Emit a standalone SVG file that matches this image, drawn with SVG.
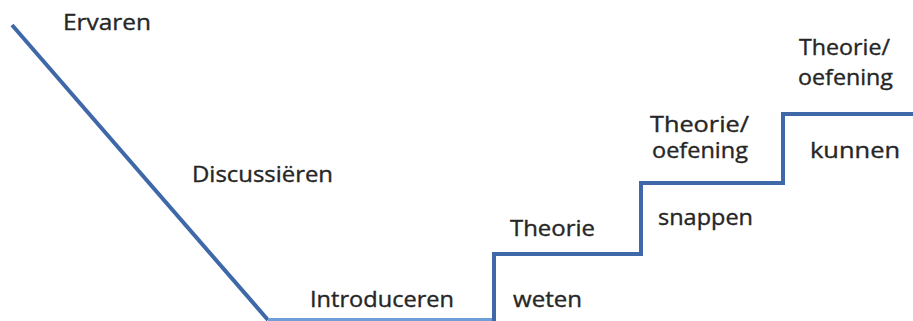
<svg xmlns="http://www.w3.org/2000/svg" width="913" height="321" viewBox="0 0 913 321">
<style>
.t{font-family:"Open Sans","Noto Sans",sans-serif;font-size:21px;fill:#262626;stroke:#262626;stroke-width:0.35}
.ln{fill:none;stroke:#3f68a8;stroke-width:4;stroke-linejoin:miter}
</style>
<rect width="913" height="321" fill="#ffffff"/>
<g id="connectors">
<path class="ln" d="M12,25 L268,320"/>
<path d="M268,320 L494,320" fill="none" stroke="#6f9fd8" stroke-width="4"/>
<path class="ln" d="M494,321 L494,254 L641,254 L641,183 L783,183 L783,114 L913,114"/>
</g>
<g id="n-ervaren"><text class="t" x="63" y="30" textLength="88" lengthAdjust="spacingAndGlyphs">Ervaren</text></g>
<g id="n-discussieren"><text class="t" x="192" y="182" textLength="141" lengthAdjust="spacingAndGlyphs">Discussiëren</text></g>
<g id="n-introduceren"><text class="t" x="310" y="307" textLength="144" lengthAdjust="spacingAndGlyphs">Introduceren</text></g>
<g id="n-weten"><text class="t" x="513" y="307" textLength="69" lengthAdjust="spacingAndGlyphs">weten</text></g>
<g id="n-theorie"><text class="t" x="510" y="236" textLength="85" lengthAdjust="spacingAndGlyphs">Theorie</text></g>
<g id="n-snappen"><text class="t" x="658" y="225" textLength="95" lengthAdjust="spacingAndGlyphs">snappen</text></g>
<g id="n-theorie2"><text class="t" x="650" y="132" textLength="99" lengthAdjust="spacingAndGlyphs">Theorie/</text><text class="t" x="652" y="158" textLength="96" lengthAdjust="spacingAndGlyphs">oefening</text></g>
<g id="n-kunnen"><text class="t" x="810" y="158" textLength="90" lengthAdjust="spacingAndGlyphs">kunnen</text></g>
<g id="n-theorie3"><text class="t" x="799" y="55" textLength="91" lengthAdjust="spacingAndGlyphs">Theorie/</text><text class="t" x="798" y="85" textLength="95" lengthAdjust="spacingAndGlyphs">oefening</text></g>
</svg>
